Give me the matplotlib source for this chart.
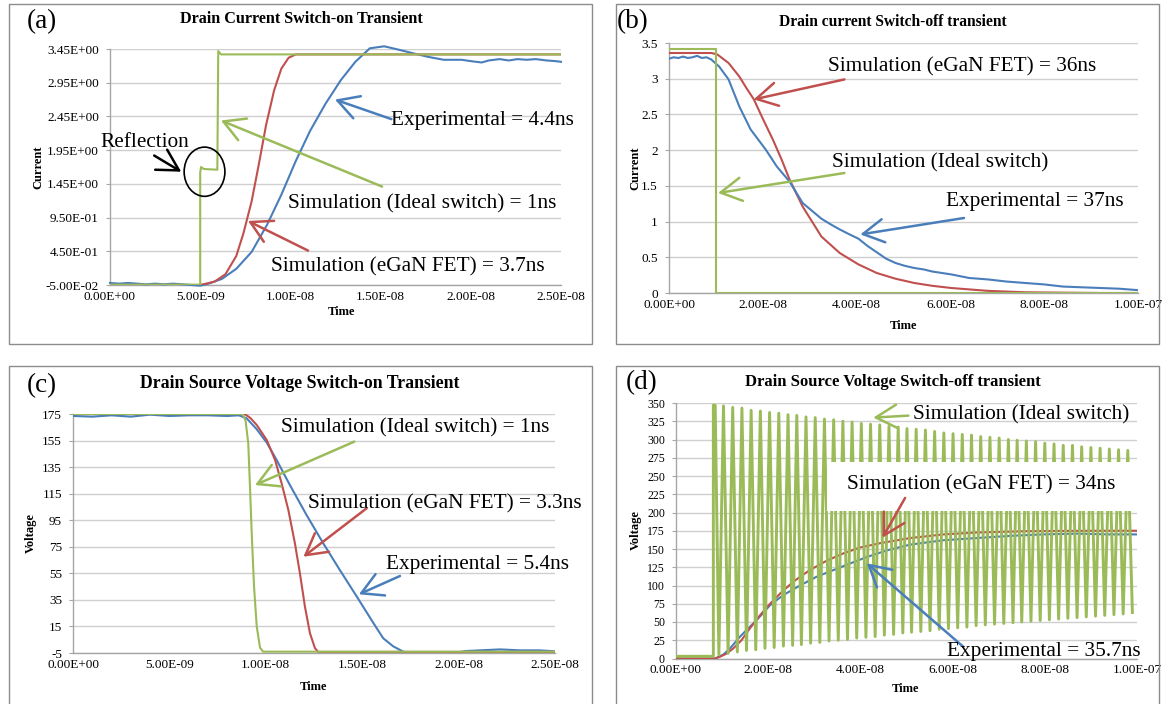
import numpy as np
import matplotlib
matplotlib.use("Agg")
import matplotlib.pyplot as plt
from matplotlib.patches import Rectangle, Ellipse
from matplotlib.ticker import FuncFormatter, FixedLocator

# ---------------- DATA (time in ns) ----------------
# (a) Drain current switch-on
a_t_exp = [0, 0.5, 1.0, 1.5, 2.0, 2.5, 3.0, 3.5, 4.0, 4.5, 5.0, 5.4, 6.2, 7.0, 7.85, 8.7, 9.5,
           10.3, 11.1, 11.95, 12.8, 13.6, 14.4, 15.2, 16.0, 16.9, 17.7, 18.5, 19.5, 20.0, 20.6,
           21.0, 21.6, 22.1, 22.6, 23.1, 23.6, 24.2, 24.7, 25.0]
a_i_exp = [-0.02, -0.03, -0.02, -0.03, -0.04, -0.03, -0.04, -0.03, -0.04, -0.05, -0.06, -0.035,
           0.04, 0.19, 0.44, 0.84, 1.29, 1.79, 2.24, 2.64, 2.99, 3.26, 3.46, 3.49, 3.44, 3.38,
           3.33, 3.29, 3.29, 3.27, 3.25, 3.28, 3.30, 3.28, 3.30, 3.29, 3.30, 3.28, 3.27, 3.26]
a_t_fet = [0, 5.0, 5.8, 6.4, 7.0, 7.4, 7.85, 8.25, 8.65, 9.1, 9.5, 9.9, 10.3, 25]
a_i_fet = [-0.05, -0.05, 0.0, 0.11, 0.38, 0.72, 1.19, 1.74, 2.32, 2.84, 3.16, 3.32, 3.37, 3.37]
a_t_ideal = [0, 5.0, 5.0, 5.05, 5.2, 5.95, 6.0, 6.15, 25]
a_i_ideal = [-0.045, -0.045, 1.62, 1.70, 1.67, 1.66, 3.42, 3.37, 3.37]
a_xticks = [0, 5e-9, 1e-8, 1.5e-8, 2e-8, 2.5e-8]
a_yticks = [-0.05, 0.45, 0.95, 1.45, 1.95, 2.45, 2.95, 3.45]

# (b) Drain current switch-off
b_t_exp = [0, 1, 2, 3, 4, 5, 6, 7, 8, 9, 9.5, 10.7, 12.7, 15.0, 17.4, 20.6, 23.0, 25.7, 28.5,
           30.5, 32.5, 34.5, 36.4, 38.5, 40.4, 42.3, 44.3, 46.3, 48.3, 50.3, 52.3, 54.3, 56.2,
           58.2, 60.2, 64, 68, 72, 76, 80, 84, 88, 92, 96, 100]
b_i_exp = [3.28, 3.30, 3.29, 3.31, 3.29, 3.30, 3.32, 3.29, 3.30, 3.27, 3.24, 3.17, 2.99, 2.61,
           2.29, 2.01, 1.77, 1.56, 1.26, 1.15, 1.04, 0.96, 0.89, 0.82, 0.76, 0.66, 0.57, 0.48,
           0.42, 0.38, 0.35, 0.33, 0.30, 0.28, 0.26, 0.21, 0.19, 0.16, 0.14, 0.12, 0.09, 0.08,
           0.07, 0.06, 0.04]
b_t_fet = [0, 9.0, 10.3, 12.7, 15.0, 16.5, 18.1, 20.0, 22.2, 24.0, 25.7, 28.5, 32.5, 36.4,
           40.4, 44.3, 48.3, 52.3, 56.2, 60.2, 64.1, 68.0, 72.0, 76.0, 84.0, 92.0, 100]
b_i_fet = [3.36, 3.36, 3.34, 3.22, 3.03, 2.87, 2.71, 2.44, 2.14, 1.87, 1.59, 1.21, 0.79, 0.56,
           0.40, 0.28, 0.20, 0.14, 0.10, 0.07, 0.05, 0.03, 0.02, 0.01, 0.005, 0.0, 0.0]
b_t_ideal = [0, 10.05, 10.05, 100]
b_i_ideal = [3.42, 3.42, 0.0, 0.0]
b_xticks = [0, 2e-8, 4e-8, 6e-8, 8e-8, 1e-7]
b_yticks = [0, 0.5, 1, 1.5, 2, 2.5, 3, 3.5]

# (c) Drain-source voltage switch-on
c_t_exp = [0, 1, 2, 3, 4, 5, 6, 7, 8, 8.6, 9.01, 9.53, 10.05, 10.56, 11.25, 12.11, 12.98,
           13.84, 14.71, 15.57, 16.09, 16.61, 17.13, 17.65, 18.34, 19.03, 19.7, 20.4, 21.1,
           22.15, 23.2, 24.2, 25]
c_v_exp = [173.5, 173, 174, 173, 174.5, 173.5, 174, 174, 173.5, 174, 171.7, 163.5, 153.4,
           140.4, 121.5, 99.0, 77.6, 57.5, 37.7, 17.8, 6.1, 0, -4, -6, -7.2, -6.5, -5, -3.5,
           -3, -2.3, -3, -3, -3.7]
c_t_fet = [0, 8.9, 9.2, 9.53, 10.05, 10.48, 10.82, 11.17, 11.51, 11.77, 12.03, 12.29, 12.55,
           12.72, 25]
c_v_fet = [175, 175, 172, 166.7, 155.4, 140.4, 122.8, 102.7, 77.6, 55, 29.9, 9.9, -1.4,
           -4.2, -4.2]
c_t_ideal = [0, 8.8, 8.95, 9.09, 9.18, 9.27, 9.39, 9.53, 9.7, 9.86, 25]
c_v_ideal = [175, 175, 170, 153, 120, 85, 45, 15, -1, -4, -4]
c_xticks = [0, 5e-9, 1e-8, 1.5e-8, 2e-8, 2.5e-8]
c_yticks = [-5, 15, 35, 55, 75, 95, 115, 135, 155, 175]

# (d) Drain-source voltage switch-off
d_t_exp = [0, 8.5, 10.3, 11.7, 13.9, 15.3, 17.5, 20.4, 23.3, 26.9, 30.5, 34.1, 38.5, 41.4,
           45.7, 50.8, 58.0, 65.2, 72.5, 79.6, 87.0, 94.0, 100]
d_v_exp = [0, 0, 5.5, 13.7, 30, 39, 52.5, 73, 87, 100, 112, 121, 132, 139, 148, 156, 162,
           165, 168, 170, 171, 170, 170]
d_t_fet = [0, 8.5, 9.5, 11.0, 12.4, 14.2, 16.0, 18.2, 20.4, 22.6, 25.4, 29.0, 32.7, 36.3,
           39.9, 44.3, 50.8, 58.0, 65.2, 76.0, 87.0, 100]
d_v_fet = [0, 0, 2.3, 6.8, 13.7, 25, 41, 59, 75, 89, 105, 121, 134, 144, 152, 158, 165, 170,
           172.6, 174.4, 174.9, 175]
d_t_ideal_start = [0, 8.1, 8.1]
d_v_ideal_start = [3, 3, 347]
d_t_peak = [8.5, 10.3, 12.3, 14.3, 16.3, 18.3, 20.3, 22.3, 24.3, 26.2, 28.2, 30.2, 32.2, 34.2,
            36.2, 38.2, 40.2, 42.2, 44.2, 46.2, 48.2, 50.1, 52.1, 54.1, 56.1, 58.1, 60.1, 62.1,
            64.1, 66.1, 68.1, 70.1, 72.1, 74.0, 76.0, 78.0, 80.0, 82.0, 84.0, 86.0, 88.0, 90.0,
            92.0, 94.0, 96.0, 98.0]
d_v_peak = [347, 346, 344, 343, 340, 339, 337, 336, 334, 333, 331, 330, 328, 327, 325, 324,
            322, 321, 320, 318, 317, 315, 314, 313, 311, 309, 308, 307, 306, 304, 303, 302,
            300, 299, 298, 297, 295, 294, 292, 292, 290, 289, 288, 287, 286, 285]
d_t_trough = [9.3, 11.3, 13.3, 15.3, 17.3, 19.3, 21.3, 23.3, 25.3, 27.2, 29.2, 31.2, 33.2,
              35.2, 37.2, 39.2, 41.2, 43.2, 45.2, 47.2, 49.2, 51.1, 53.1, 55.1, 57.1, 59.1,
              61.1, 63.1, 65.1, 67.1, 69.1, 71.1, 73.1, 75.0, 77.0, 79.0, 81.0, 83.0, 85.0,
              87.0, 89.0, 91.0, 93.0, 95.0, 97.0, 99.0]
d_v_trough = [5, 7, 9, 11, 12, 14, 15, 17, 18, 19, 21, 22, 24, 25, 26, 28, 29, 30, 32, 33,
              35, 36, 37, 38, 40, 41, 42, 43, 45, 46, 47, 48, 49, 50, 51, 52, 53, 54, 55, 56,
              57, 58, 59, 60, 61, 63]
d_xticks = [0, 2e-8, 4e-8, 6e-8, 8e-8, 1e-7]
d_yticks = [0, 25, 50, 75, 100, 125, 150, 175, 200, 225, 250, 275, 300, 325, 350]

# ---------------- STYLE ----------------
W, H = 1162, 704
BLUE, RED, GREEN = "#4a7ebb", "#c0504d", "#9bbb59"
SERIF = "Liberation Serif"
plt.rcParams["font.family"] = [SERIF, "DejaVu Serif"]

fig = plt.figure(figsize=(W / 100, H / 100), dpi=100)
fig.patch.set_facecolor("white")


def fx(px):
    return px / W


def fy(py):
    return 1 - py / H


def make_axes(l, t, r, b):
    return fig.add_axes([fx(l), fy(b), (r - l) / W, (b - t) / H])


def ns(lst):
    return np.array(lst) * 1e-9


def style(ax, xticks, yticks, xlim, ylim, yfmt):
    ax.set_xlim(*xlim)
    ax.set_ylim(*ylim)
    ax.xaxis.set_major_locator(FixedLocator(xticks))
    ax.yaxis.set_major_locator(FixedLocator(yticks))
    ax.xaxis.set_major_formatter(FuncFormatter(lambda v, p: f"{v:.2E}"))
    ax.yaxis.set_major_formatter(FuncFormatter(yfmt))
    ax.grid(axis="y", color="#cfcfcf", lw=1.0)
    ax.set_axisbelow(True)
    for s in ["top", "right"]:
        ax.spines[s].set_visible(False)
    for s in ["left", "bottom"]:
        ax.spines[s].set_color("#a6a6a6")
        ax.spines[s].set_linewidth(1.0)
    ax.tick_params(axis="x", length=0, pad=4, labelsize=9.5)
    ax.tick_params(axis="y", length=3, color="#a6a6a6", pad=5, labelsize=9.5)
    for lab in ax.get_xticklabels() + ax.get_yticklabels():
        lab.set_family(SERIF)


def arrow(ax, tail, tip, color):
    ax.annotate("", xy=(tip[0] * 1e-9, tip[1]), xytext=(tail[0] * 1e-9, tail[1]),
                arrowprops=dict(arrowstyle="->,head_length=0.75,head_width=0.42",
                                mutation_scale=20, color=color, lw=1.8,
                                shrinkA=0, shrinkB=0), zorder=8)


def label(ax, t, v, s, **kw):
    ax.text(t * 1e-9, v, s, fontsize=15.3, family=SERIF, ha="left", va="center",
            zorder=10, **kw)


def border(l, t, r, b):
    fig.add_artist(Rectangle((fx(l), fy(b)), (r - l) / W, (b - t) / H, transform=fig.transFigure,
                             fill=False, ec="#8c8c8c", lw=1.0))


def ftext(px, py, s, **kw):
    fig.text(fx(px), fy(py), s, family=SERIF, **kw)


# panel borders
border(9, 4, 592, 344)
border(616, 4, 1159, 344)
border(9, 366, 592, 712)
border(616, 366, 1159, 712)

LW = 1.5
PANEL_FS = 19.5

# ---------------- (a) ----------------
ax = make_axes(110, 49, 561, 285)
ax.plot(ns(a_t_exp), a_i_exp, color=BLUE, lw=LW, zorder=3, clip_on=False)
ax.plot(ns(a_t_fet), a_i_fet, color=RED, lw=LW, zorder=4)
ax.plot(ns(a_t_ideal), a_i_ideal, color=GREEN, lw=LW, zorder=5)
style(ax, a_xticks, a_yticks, (0, 2.5e-8), (-0.05, 3.45), lambda v, p: f"{v:.2E}")
arrow(ax, (15.6, 2.41), (12.47, 2.70), BLUE)
label(ax, 15.6, 2.39, "Experimental = 4.4ns")
arrow(ax, (15.08, 1.41), (6.15, 2.39), GREEN)
label(ax, 9.87, 1.16, "Simulation (Ideal switch) = 1ns")
arrow(ax, (10.98, 0.46), (7.65, 0.90), RED)
label(ax, 8.92, 0.215, "Simulation (eGaN FET) = 3.7ns")
label(ax, -0.52, 2.06, "Reflection")
arrow(ax, (2.45, 1.87), (3.95, 1.63), "black")
ax.add_patch(Ellipse((5.24e-9, 1.63), width=2.26e-9, height=0.73, fill=False,
                     ec="black", lw=1.2, zorder=7))
ftext(301, 19, "Drain Current Switch-on Transient", ha="center", va="center",
      fontsize=11.6, fontweight="bold")
ftext(27, 22, "(a)", ha="left", va="center", fontsize=PANEL_FS)
ftext(38, 167, "Current", ha="center", va="center", rotation=90, fontsize=9,
      fontweight="bold")
ftext(341, 312, "Time", ha="center", va="center", fontsize=9, fontweight="bold")

# ---------------- (b) ----------------
ax = make_axes(669, 43, 1138, 293)
ax.plot(ns(b_t_fet), b_i_fet, color=RED, lw=LW, zorder=3)
ax.plot(ns(b_t_exp), b_i_exp, color=BLUE, lw=LW, zorder=4)
ax.plot(ns(b_t_ideal), b_i_ideal, color=GREEN, lw=LW, zorder=5)
style(ax, b_xticks, b_yticks, (0, 1e-7), (0, 3.5), lambda v, p: f"{v:g}")
arrow(ax, (37.4, 2.99), (18.05, 2.71), RED)
label(ax, 33.9, 3.17, "Simulation (eGaN FET) = 36ns")
arrow(ax, (37.4, 1.68), (10.45, 1.40), GREEN)
label(ax, 34.7, 1.82, "Simulation (Ideal switch)")
arrow(ax, (62.9, 1.05), (40.8, 0.82), BLUE)
label(ax, 59.0, 1.28, "Experimental = 37ns")
ftext(893, 22, "Drain current Switch-off transient", ha="center", va="center",
      fontsize=11.2, fontweight="bold")
ftext(617, 22, "(b)", ha="left", va="center", fontsize=PANEL_FS)
ftext(635, 168, "Current", ha="center", va="center", rotation=90, fontsize=9,
      fontweight="bold")
ftext(903, 326, "Time", ha="center", va="center", fontsize=9, fontweight="bold")

# ---------------- (c) ----------------
ax = make_axes(73, 414, 555, 653)
ax.plot(ns(c_t_exp), c_v_exp, color=BLUE, lw=LW, zorder=3)
ax.plot(ns(c_t_fet), c_v_fet, color=RED, lw=LW, zorder=4)
ax.plot(ns(c_t_ideal), c_v_ideal, color=GREEN, lw=LW, zorder=5)
style(ax, c_xticks, c_yticks, (0, 2.5e-8), (-5, 175), lambda v, p: f"{v:g}")
arrow(ax, (14.59, 154.2), (9.44, 121.5), GREEN)
label(ax, 10.79, 164.2, "Simulation (Ideal switch) = 1ns")
arrow(ax, (15.23, 104), (11.95, 67.5), RED)
label(ax, 12.2, 107.2, "Simulation (eGaN FET) = 3.3ns")
arrow(ax, (16.96, 53), (14.83, 39.2), BLUE)
label(ax, 16.23, 62, "Experimental = 5.4ns")
ftext(300, 384, "Drain Source Voltage Switch-on Transient", ha="center", va="center",
      fontsize=12.8, fontweight="bold")
ftext(27, 386, "(c)", ha="left", va="center", fontsize=PANEL_FS)
ftext(31, 533, "Voltage", ha="center", va="center", rotation=90, fontsize=9,
      fontweight="bold")
ftext(314, 687, "Time", ha="center", va="center", fontsize=9, fontweight="bold")

# ---------------- (d) ----------------
ax = make_axes(676, 403, 1137, 658.5)
ax.plot(ns(d_t_exp), d_v_exp, color=BLUE, lw=LW, zorder=3)
ax.plot(ns(d_t_fet), d_v_fet, color=RED, lw=LW, zorder=3)
g_t = list(d_t_ideal_start)
g_v = list(d_v_ideal_start)
for tp, vp, tt, vt in zip(d_t_peak, d_v_peak, d_t_trough, d_v_trough):
    g_t += [tp, tt]
    g_v += [vp, vt]
ax.plot(ns(g_t), g_v, color=GREEN, lw=2.1, zorder=5)
style(ax, d_xticks, d_yticks, (0, 1e-7), (0, 350), lambda v, p: f"{v:g}")
ax.tick_params(axis="y", labelsize=8.5)
ax.add_patch(Rectangle((32.7e-9, 202), 67.5e-9, 67.6, fc="white", ec="none", zorder=6))
arrow(ax, (50.4, 332.7), (42.8, 330), GREEN)
label(ax, 51.5, 333.6, "Simulation (Ideal switch)")
arrow(ax, (49.7, 220), (44.8, 165.5), RED)
label(ax, 37.2, 237.7, "Simulation (eGaN FET) = 34ns")
arrow(ax, (62.3, 16.2), (41.4, 130.4), BLUE)
label(ax, 58.7, 9.3, "Experimental = 35.7ns")
ftext(893, 382, "Drain Source Voltage Switch-off transient", ha="center", va="center",
      fontsize=12.0, fontweight="bold")
ftext(626, 383, "(d)", ha="left", va="center", fontsize=PANEL_FS)
ftext(636, 530, "Voltage", ha="center", va="center", rotation=90, fontsize=9,
      fontweight="bold")
ftext(906, 689, "Time", ha="center", va="center", fontsize=9, fontweight="bold")

fig.savefig("out.png", dpi=100)
